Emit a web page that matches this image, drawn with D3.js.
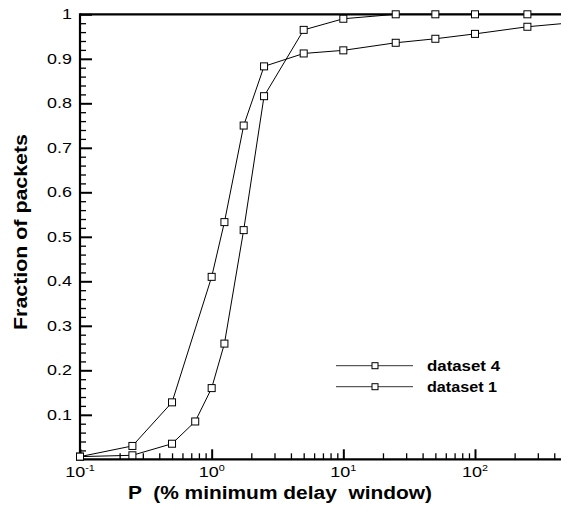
<!DOCTYPE html>
<html>
<head>
<meta charset="utf-8">
<script src="https://cdn.jsdelivr.net/npm/d3@7"></script>
<style>
  html, body { margin: 0; padding: 0; background: #fff; }
  svg { display: block; font-family: "Liberation Sans", Arial, Helvetica, sans-serif; }
</style>
</head>
<body>
<svg id="chart" width="561" height="510"></svg>
<script>
// P values (% of minimum delay window) and cumulative fraction of packets
const xDataset4 = [0.1, 0.25, 0.5, 1, 1.25, 1.75, 2.5, 5, 10, 25, 50, 100, 250, 500];
const yDataset4 = [0.006, 0.03, 0.128, 0.41, 0.533, 0.75, 0.883, 0.912, 0.919, 0.936, 0.945, 0.956, 0.972, 0.98];

const xDataset1 = [0.1, 0.25, 0.5, 0.75, 1, 1.25, 1.75, 2.5, 5, 10, 25, 50, 100, 250, 500];
const yDataset1 = [0.006, 0.009, 0.035, 0.085, 0.16, 0.26, 0.515, 0.816, 0.965, 0.99, 1, 1, 1, 1, 1];

const seriesNames = ["dataset 4", "dataset 1"];

const yTickValues = [0.1, 0.2, 0.3, 0.4, 0.5, 0.6, 0.7, 0.8, 0.9, 1];
const yTickLabels = ["0.1", "0.2", "0.3", "0.4", "0.5", "0.6", "0.7", "0.8", "0.9", "1"];
const xTickValues = [0.1, 1, 10, 100];
const xTickExponents = ["-1", "0", "1", "2"];
const xDomain = [0.1, 450];
const yDomain = [0, 1];

(function draw() {
  const svg = d3.select("#chart");
  const pLeft = 80, pRight = 561, pTop = 14.3, pBottom = 459.3;

  const x = d3.scaleLog().domain(xDomain).range([pLeft, pRight]);
  const y = d3.scaleLinear().domain(yDomain).range([pBottom, pTop]);

  // minor ticks
  const yMinor = d3.range(0, 1.0001, 0.02).filter(v => Math.abs(v * 10 - Math.round(v * 10)) > 1e-6);
  const xMinor = [];
  [0.1, 1, 10, 100].forEach(d => { for (let k = 2; k <= 9; k++) { const v = d * k; if (v <= xDomain[1]) xMinor.push(v); } });

  const axes = svg.append("g");

  // y axis ticks (pointing inside)
  axes.append("g").attr("transform", `translate(${pLeft},0)`)
    .call(d3.axisLeft(y).tickValues(yMinor).tickSize(-6).tickSizeOuter(0).tickFormat(""))
    .call(g => g.select(".domain").remove())
    .call(g => g.selectAll(".tick line").attr("stroke", "#000").attr("stroke-width", 1.3));
  axes.append("g").attr("transform", `translate(${pLeft},0)`)
    .call(d3.axisLeft(y).tickValues(yTickValues).tickSize(-12).tickSizeOuter(0).tickFormat(""))
    .call(g => g.select(".domain").remove())
    .call(g => g.selectAll(".tick line").attr("stroke", "#000").attr("stroke-width", 2));

  // x axis ticks (pointing inside)
  axes.append("g").attr("transform", `translate(0,${pBottom})`)
    .call(d3.axisBottom(x).tickValues(xMinor).tickSize(-6).tickSizeOuter(0).tickFormat(""))
    .call(g => g.select(".domain").remove())
    .call(g => g.selectAll(".tick line").attr("stroke", "#000").attr("stroke-width", 1.3));
  axes.append("g").attr("transform", `translate(0,${pBottom})`)
    .call(d3.axisBottom(x).tickValues(xTickValues).tickSize(-10).tickSizeOuter(0).tickFormat(""))
    .call(g => g.select(".domain").remove())
    .call(g => g.selectAll(".tick line").attr("stroke", "#000").attr("stroke-width", 2));

  // frame lines
  axes.append("line").attr("x1", pLeft).attr("x2", pRight).attr("y1", pBottom).attr("y2", pBottom)
    .attr("stroke", "#000").attr("stroke-width", 2.2);
  axes.append("line").attr("x1", pLeft).attr("x2", pLeft).attr("y1", pTop - 1).attr("y2", pBottom + 1)
    .attr("stroke", "#000").attr("stroke-width", 2.2);
  axes.append("line").attr("x1", pLeft).attr("x2", pRight).attr("y1", pTop).attr("y2", pTop)
    .attr("stroke", "#000").attr("stroke-width", 2.2);

  // y tick labels
  svg.append("g").selectAll("text").data(yTickValues).join("text")
    .attr("transform", d => `translate(${pLeft - 8},${y(d)}) scale(1.28,1)`)
    .attr("text-anchor", "end").attr("dy", "0.36em")
    .attr("font-size", 14).attr("fill", "#000")
    .text((d, i) => yTickLabels[i]);

  // x tick labels: 10 with exponent
  const xl = svg.append("g").selectAll("text").data(xTickValues).join("text")
    .attr("transform", d => `translate(${x(d)},${pBottom + 18}) scale(1.2,1)`)
    .attr("text-anchor", "middle")
    .attr("font-size", 15).attr("fill", "#000");
  xl.append("tspan").text("10");
  xl.append("tspan").attr("font-size", 9).attr("dy", -6).text((d, i) => xTickExponents[i]);

  // axis titles
  svg.append("text")
    .attr("x", 280).attr("y", 499)
    .attr("text-anchor", "middle").attr("font-size", 18).attr("font-weight", "bold")
    .attr("textLength", 304).attr("lengthAdjust", "spacingAndGlyphs")
    .style("white-space", "pre")
    .text("P  (% minimum delay  window)");

  svg.append("text")
    .attr("transform", `translate(27,232) rotate(-90)`)
    .attr("text-anchor", "middle").attr("font-size", 18).attr("font-weight", "bold")
    .attr("textLength", 196).attr("lengthAdjust", "spacingAndGlyphs")
    .text("Fraction of packets");

  // data series
  const plot = svg.append("g");
  const line = d3.line().x(d => x(d[0])).y(d => y(d[1]));
  const series = [
    xDataset4.map((v, i) => [v, yDataset4[i]]),
    xDataset1.map((v, i) => [v, yDataset1[i]])
  ];
  const ms = 7;
  series.forEach(pts => {
    plot.append("path").datum(pts).attr("d", line)
      .attr("fill", "none").attr("stroke", "#000").attr("stroke-width", 1);
  });
  series.forEach(pts => {
    plot.append("g").selectAll("rect").data(pts).join("rect")
      .attr("x", d => x(d[0]) - ms / 2).attr("y", d => y(d[1]) - ms / 2)
      .attr("width", ms).attr("height", ms)
      .attr("fill", "#fff").attr("stroke", "#000").attr("stroke-width", 1);
  });

  // legend
  const legend = svg.append("g");
  const legendRows = [365.7, 386.7];
  const legendLens = [73, 70];
  seriesNames.forEach((name, i) => {
    const ly = legendRows[i];
    legend.append("line").attr("x1", 336).attr("x2", 413).attr("y1", ly).attr("y2", ly)
      .attr("stroke", "#333").attr("stroke-width", 1);
    legend.append("rect").attr("x", 375 - 3).attr("y", ly - 3).attr("width", 6).attr("height", 6)
      .attr("fill", "#fff").attr("stroke", "#000").attr("stroke-width", 1);
    legend.append("text").attr("x", 427).attr("y", ly + 5)
      .attr("font-size", 14).attr("font-weight", "bold").attr("fill", "#000")
      .attr("textLength", legendLens[i]).attr("lengthAdjust", "spacingAndGlyphs")
      .text(name);
  });
})();
</script>
</body>
</html>
